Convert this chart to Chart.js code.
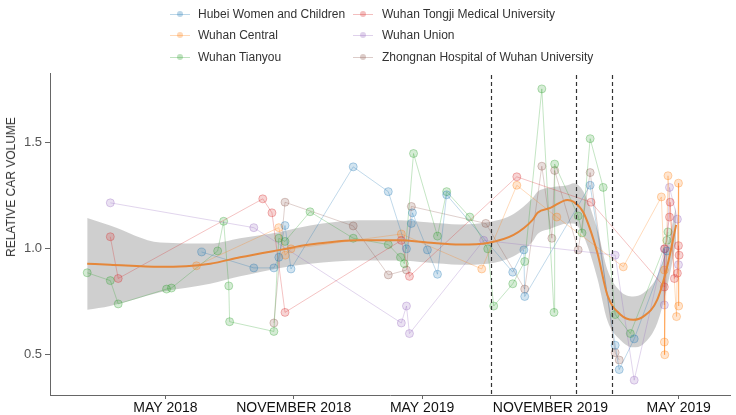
<!DOCTYPE html>
<html>
<head>
<meta charset="utf-8">
<script src="https://cdn.jsdelivr.net/npm/chart.js@4"></script>
<style>
  body { margin: 0; background: #fff; font-family: "Liberation Sans", Arial, sans-serif; }
  #wrap { position: relative; width: 736px; height: 415px; }
  .lg { position: absolute; font-size: 12px; color: #333; white-space: nowrap; line-height: 14px; }
  .mk { position: absolute; height: 1px; width: 20px; }
  .dot { position: absolute; width: 6px; height: 6px; border-radius: 50%; }
  #ytitle { position: absolute; left: 11px; top: 187px; font-size: 12px; color: #333; white-space: nowrap;
            transform: translate(-50%, -50%) rotate(-90deg); }
</style>
</head>
<body>
<div id="wrap">
  <canvas id="c" width="736" height="415"></canvas>
  <div id="ytitle">RELATIVE CAR VOLUME</div>
  <div id="legend"></div>
</div>
<script>
// months counted from January 2018 (0 = Jan 2018)
const tickMonths = [4, 10, 16, 22, 28];
const tickLabels = ["MAY 2018", "NOVEMBER 2018", "MAY 2019", "NOVEMBER 2019", "MAY 2019"];
const yTicks = [0.5, 1.0, 1.5];
const eventMonths = [19.2, 23.2, 24.9];

const hubei = [[5.69,0.985],[8.13,0.91],[9.07,0.91],[9.3,0.96],[9.59,1.11],[9.87,0.905],[12.78,1.387],[14.42,1.27],
  [15.27,1.0],[15.5,1.12],[15.55,1.17],[16.25,0.995],[16.72,0.88],[17.15,1.255],[20.24,0.89],[20.76,0.995],[20.8,0.775],
  [23.86,1.30],[25.03,0.545],[25.22,0.43],[25.92,0.575],[27.45,0.99]];
const central = [[5.45,0.92],[9.3,1.10],[9.6,0.97],[9.87,1.0],[15.03,1.07],[18.79,0.905],[20.43,1.30],[22.3,1.15],
  [25.41,0.915],[27.19,1.245],[27.33,0.90],[27.33,0.56],[27.35,0.50],[27.5,1.345],[27.9,0.68],[27.99,1.31],[28.0,0.73]];
const tianyou = [[0.34,0.887],[1.42,0.85],[1.79,0.74],[4.05,0.81],[4.28,0.815],[6.44,0.99],[6.72,1.13],[6.96,0.825],
  [7.0,0.656],[9.07,0.61],[9.3,1.05],[9.59,1.035],[10.76,1.175],[12.78,1.05],[14.42,1.02],[14.99,0.96],[15.17,0.93],
  [15.6,1.45],[16.72,1.06],[17.15,1.27],[18.23,1.15],[19.07,1.0],[19.35,0.73],[20.24,0.835],[20.8,0.94],[21.6,1.755],
  [22.17,0.70],[22.2,1.40],[23.3,1.155],[23.48,1.075],[23.86,1.52],[24.47,1.29],[25.03,0.69],[25.74,0.60],[27.45,1.04],[27.5,1.08]];
const tongji = [[1.42,1.057],[1.79,0.86],[8.55,1.236],[8.98,1.17],[9.59,0.70],[15.03,1.04],[15.41,0.87],[20.43,1.34],
  [23.9,1.22],[27.33,0.82],[27.35,1.0],[27.57,1.15],[27.6,1.22],[27.8,0.86],[27.94,0.885],[27.99,1.015],[28.02,0.97]];
const union = [[1.42,1.217],[8.13,1.10],[15.03,0.65],[15.27,0.73],[15.41,0.60],[18.88,1.04],[25.03,0.97],[25.92,0.38],
  [27.33,1.0],[27.33,0.735],[27.57,1.29],[27.94,1.14],[27.99,0.925]];
const zhongnan = [[9.07,0.65],[9.59,1.22],[12.78,1.108],[14.42,0.877],[15.27,0.90],[15.5,1.2],[18.98,1.12],[20.8,0.81],
  [21.6,1.39],[22.07,1.05],[22.2,1.37],[23.3,0.995],[23.86,1.36],[25.03,0.51],[25.22,0.475]];

// smoothed trend and its confidence band
const fitX = [0.34,1.41,3.75,6.09,7.49,9.36,10.76,13.1,14.97,16.23,17.78,19.07,20.28,21.17,21.4,22.0,22.8,23.08,23.55,24.2,24.67,25.27,25.87,26.34,27.0,27.46,27.88];
const fitY = [0.93,0.925,0.915,0.93,0.96,0.995,1.02,1.04,1.04,1.03,1.02,1.028,1.066,1.137,1.17,1.193,1.231,1.222,1.17,0.98,0.78,0.69,0.665,0.68,0.76,0.915,1.113];
const fitLo = [0.712,0.73,0.795,0.835,0.87,0.91,0.93,0.945,0.945,0.935,0.925,0.93,0.965,1.035,1.07,1.095,1.12,1.12,1.06,0.86,0.66,0.57,0.535,0.55,0.65,0.82,1.03];
const fitHi = [1.146,1.11,1.03,1.025,1.05,1.08,1.11,1.135,1.135,1.125,1.115,1.125,1.165,1.24,1.27,1.29,1.30,1.31,1.27,1.09,0.90,0.80,0.775,0.79,0.87,1.01,1.20];

const series = [
  { name: "Hubei Women and Children", data: hubei, rgb: "31,119,180" },
  { name: "Wuhan Tongji Medical University", data: tongji, rgb: "214,39,40" },
  { name: "Wuhan Central", data: central, rgb: "255,127,14" },
  { name: "Wuhan Union", data: union, rgb: "148,103,189" },
  { name: "Wuhan Tianyou", data: tianyou, rgb: "44,160,44" },
  { name: "Zhongnan Hospital of Wuhan University", data: zhongnan, rgb: "140,86,75" }
];

// legend, two columns
const legend = document.getElementById("legend");
series.forEach((s, i) => {
  const col = i % 2, row = Math.floor(i / 2);
  const cx = col ? 363 : 180, tx = col ? 382 : 198, cy = [14, 35, 57][row];
  legend.insertAdjacentHTML("beforeend",
    `<div class="mk" style="left:${cx - 10}px;top:${cy}px;background:rgba(${s.rgb},0.3)"></div>` +
    `<div class="dot" style="left:${cx - 3}px;top:${cy - 3}px;background:rgba(${s.rgb},0.3)"></div>` +
    `<div class="lg" style="left:${tx}px;top:${cy - 7}px">${s.name}</div>`);
});

const pts = arr => arr.map(p => ({ x: p[0], y: p[1] }));
const fitPts = ys => fitX.map((x, i) => ({ x: x, y: ys[i] }));

const datasets = [
  { data: fitPts(fitLo), showLine: true, pointRadius: 0, borderWidth: 0, fill: false,
    cubicInterpolationMode: "monotone", order: 10 },
  { data: fitPts(fitHi), showLine: true, pointRadius: 0, borderWidth: 0, fill: "-1",
    backgroundColor: "rgba(160,160,160,0.5)", cubicInterpolationMode: "monotone", order: 10 }
];
series.forEach(s => datasets.push({
  label: s.name, data: pts(s.data), showLine: true,
  borderColor: `rgba(${s.rgb},0.28)`, borderWidth: 1,
  pointRadius: 4, pointBackgroundColor: `rgba(${s.rgb},0.2)`, pointBorderColor: `rgba(${s.rgb},0.32)`,
  pointBorderWidth: 1, order: 5
}));
datasets.push({ data: fitPts(fitY), showLine: true, pointRadius: 0, borderColor: "#e5873a", borderWidth: 2,
  cubicInterpolationMode: "monotone", order: 0 });

const eventLines = {
  id: "eventLines",
  afterDatasetsDraw(chart) {
    const { ctx, chartArea: a, scales: { x } } = chart;
    ctx.save();
    ctx.strokeStyle = "#333";
    ctx.lineWidth = 1.2;
    ctx.setLineDash([4, 3]);
    eventMonths.forEach(m => {
      const px = Math.round(x.getPixelForValue(m)) + 0.5;
      ctx.beginPath();
      ctx.moveTo(px, a.top + 2);
      ctx.lineTo(px, a.bottom);
      ctx.stroke();
    });
    ctx.restore();
  }
};

new Chart(document.getElementById("c"), {
  type: "scatter",
  data: { datasets },
  plugins: [eventLines],
  options: {
    responsive: false, animation: false, devicePixelRatio: 1,
    layout: { padding: { top: 73, right: 6, left: 0, bottom: 0 } },
    plugins: { legend: { display: false }, tooltip: { enabled: false } },
    scales: {
      x: {
        type: "linear", min: -1.4, max: 30.4,
        grid: { drawOnChartArea: false, drawTicks: true, tickLength: 4, color: "#666" },
        border: { color: "#666", width: 1 },
        afterBuildTicks: s => { s.ticks = tickMonths.map(v => ({ value: v })); },
        afterFit: s => { s.height = 20; },
        ticks: { autoSkip: false, maxRotation: 0, padding: 1, color: "#111",
          font: { family: "Liberation Sans", size: 14 },
          callback: v => tickLabels[tickMonths.indexOf(v)] }
      },
      y: {
        min: 0.31, max: 1.83,
        grid: { drawOnChartArea: false, drawTicks: true, tickLength: 5, color: "#666" },
        border: { color: "#666", width: 1 },
        afterBuildTicks: s => { s.ticks = yTicks.map(v => ({ value: v })); },
        afterFit: s => { s.width = 50; },
        ticks: { padding: 3, color: "#555", font: { family: "Liberation Sans", size: 13 },
          callback: v => v.toFixed(1) }
      }
    }
  }
});
</script>
</body>
</html>
